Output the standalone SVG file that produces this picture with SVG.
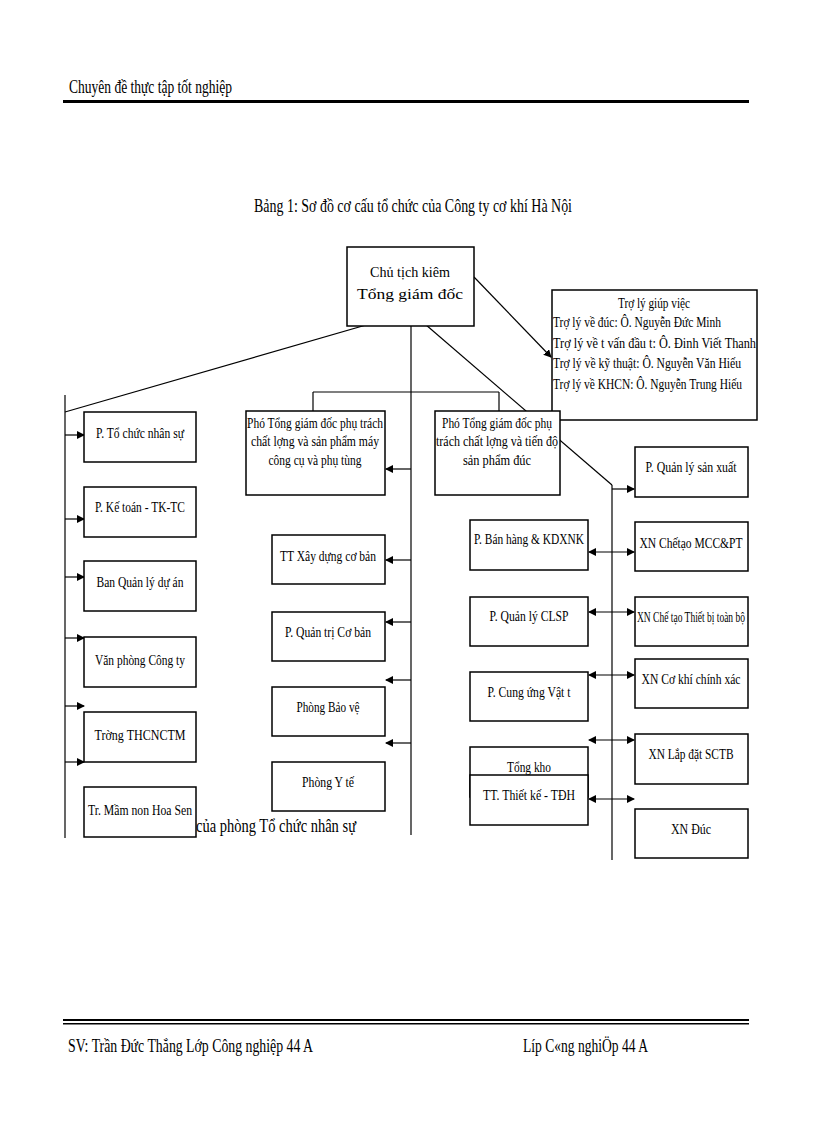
<svg xmlns="http://www.w3.org/2000/svg" width="816" height="1123" viewBox="0 0 816 1123">
<style>
text{font-family:"Liberation Serif",serif;fill:#000}
.b{fill:#fff;stroke:#000;stroke-width:1.5}
.c{stroke:#000;stroke-width:1.2;fill:none}
.t{font-size:15px;text-anchor:middle}
</style>
<defs>
<marker id="a" markerWidth="8" markerHeight="8" refX="7" refY="4" orient="auto" markerUnits="userSpaceOnUse"><path d="M0,0L8,4L0,8z"/></marker>
<marker id="s" markerWidth="8" markerHeight="8" refX="1" refY="4" orient="auto" markerUnits="userSpaceOnUse"><path d="M8,0L0,4L8,8z"/></marker>
</defs>
<rect width="816" height="1123" fill="#fff"/>
<text x="69" y="93" font-size="19" textLength="163" lengthAdjust="spacingAndGlyphs">Chuyên đề thực tập tốt nghiệp</text>
<rect x="63" y="100" width="686" height="3"/>
<text x="413" y="212" font-size="19" text-anchor="middle" textLength="318" lengthAdjust="spacingAndGlyphs">Bảng 1: Sơ đồ cơ cấu tổ chức của Công ty cơ khí Hà Nội</text>
<rect x="63" y="1019" width="686" height="2"/><rect x="63" y="1023" width="686" height="1.5"/>
<text x="68" y="1052" font-size="19" textLength="245" lengthAdjust="spacingAndGlyphs">SV: Trần Đức Thắng Lớp Công nghiệp 44 A</text>
<text x="523" y="1052" font-size="19" textLength="125" lengthAdjust="spacingAndGlyphs">Líp C«ng nghiÖp 44 A</text>

<g id="connectors" class="c">
<path d="M411,312L65,412"/>
<path d="M65,395V838"/>
<path d="M411,312V835"/>
<path d="M411,312L612,485"/>
<path d="M612,485V860"/>
<path d="M474,277L551,357" marker-end="url(#a)"/>
<path d="M313,392H499"/>
<path d="M313,392V438" marker-end="url(#a)"/>
<path d="M499,392V442" marker-end="url(#a)"/>
<path d="M65,435H84" marker-end="url(#a)"/>
<path d="M65,519H84" marker-end="url(#a)"/>
<path d="M65,577H84" marker-end="url(#a)"/>
<path d="M65,638H84" marker-end="url(#a)"/>
<path d="M65,706H84" marker-end="url(#a)"/>
<path d="M65,762H84" marker-end="url(#a)"/>
<path d="M411,469H386" marker-end="url(#a)"/>
<path d="M411,560H386" marker-end="url(#a)"/>
<path d="M411,622H386" marker-end="url(#a)"/>
<path d="M411,680H386" marker-end="url(#a)"/>
<path d="M411,743H386" marker-end="url(#a)"/>
<path d="M612,489H634" marker-end="url(#a)"/>
<path d="M589,552H634" marker-start="url(#s)" marker-end="url(#a)"/>
<path d="M589,612H634" marker-start="url(#s)" marker-end="url(#a)"/>
<path d="M589,675H634" marker-start="url(#s)" marker-end="url(#a)"/>
<path d="M589,740H634" marker-start="url(#s)" marker-end="url(#a)"/>
<path d="M589,799H634" marker-start="url(#s)" marker-end="url(#a)"/>
</g>

<g id="ceo"><rect class="b" x="347" y="247" width="127" height="79"/>
<text class="t" x="410" y="277" font-size="19" textLength="80" lengthAdjust="spacingAndGlyphs">Chủ tịch kiêm</text><text class="t" x="410" y="299" font-size="19" textLength="106" lengthAdjust="spacingAndGlyphs">Tổng giám đốc</text></g>
<g id="assist"><rect class="b" x="552" y="290" width="205" height="130"/>
<text class="t" x="654" y="308" textLength="72" lengthAdjust="spacingAndGlyphs">Trợ lý giúp việc</text>
<text x="553" y="327" font-size="15" textLength="168" lengthAdjust="spacingAndGlyphs">Trợ lý về đúc: Ô. Nguyễn Đức Minh</text>
<text x="553" y="348" font-size="15" textLength="203" lengthAdjust="spacingAndGlyphs">Trợ lý về t   vấn đầu t:   Ô. Đinh Viết Thanh</text>
<text x="553" y="368" font-size="15" textLength="188" lengthAdjust="spacingAndGlyphs">Trợ lý về kỹ thuật: Ô. Nguyễn Văn Hiếu</text>
<text x="553" y="389" font-size="15" textLength="189" lengthAdjust="spacingAndGlyphs">Trợ lý về KHCN: Ô. Nguyễn Trung Hiếu</text></g>

<g id="l1"><rect class="b" x="84" y="412" width="112" height="50"/><text class="t" x="140" y="438" textLength="88" lengthAdjust="spacingAndGlyphs">P. Tổ chức nhân sự</text></g>
<g id="l2"><rect class="b" x="84" y="487" width="112" height="50"/><text class="t" x="140" y="512" textLength="90" lengthAdjust="spacingAndGlyphs">P. Kế toán - TK-TC</text></g>
<g id="l3"><rect class="b" x="84" y="561" width="112" height="50"/><text class="t" x="140" y="587" textLength="87" lengthAdjust="spacingAndGlyphs">Ban Quản lý dự án</text></g>
<g id="l4"><rect class="b" x="84" y="637" width="112" height="50"/><text class="t" x="140" y="665" textLength="90" lengthAdjust="spacingAndGlyphs">Văn phòng Công ty</text></g>
<g id="l5"><rect class="b" x="84" y="712" width="112" height="50"/><text class="t" x="140" y="740" textLength="91" lengthAdjust="spacingAndGlyphs">Trờng   THCNCTM</text></g>
<g id="l6"><rect class="b" x="84" y="787" width="112" height="50"/><text class="t" x="140" y="815" textLength="104" lengthAdjust="spacingAndGlyphs">Tr. Mầm non Hoa Sen</text></g>
<text x="196" y="832" font-size="19" textLength="160" lengthAdjust="spacingAndGlyphs">của phòng Tổ chức nhân sự</text>

<g id="p1"><rect class="b" x="246" y="411" width="139" height="84"/>
<text class="t" x="315" y="428" textLength="136" lengthAdjust="spacingAndGlyphs">Phó Tổng giám đốc phụ trách</text>
<text class="t" x="315" y="446" textLength="128" lengthAdjust="spacingAndGlyphs">chất lợng   và sản phẩm máy</text>
<text class="t" x="315" y="465" textLength="93" lengthAdjust="spacingAndGlyphs">công cụ và phụ tùng</text></g>
<g id="p2"><rect class="b" x="435" y="411" width="125" height="84"/>
<text class="t" x="497" y="428" textLength="110" lengthAdjust="spacingAndGlyphs">Phó Tổng giám đốc phụ</text>
<text class="t" x="497" y="446" textLength="122" lengthAdjust="spacingAndGlyphs">trách chất lợng   và tiến độ</text>
<text class="t" x="497" y="465" textLength="68" lengthAdjust="spacingAndGlyphs">sản phẩm đúc</text></g>

<g id="m1"><rect class="b" x="272" y="535" width="113" height="49"/><text class="t" x="328" y="561" textLength="96" lengthAdjust="spacingAndGlyphs">TT Xây dựng cơ bản</text></g>
<g id="m2"><rect class="b" x="272" y="612" width="113" height="49"/><text class="t" x="328" y="637" textLength="86" lengthAdjust="spacingAndGlyphs">P. Quản trị Cơ bản</text></g>
<g id="m3"><rect class="b" x="272" y="687" width="113" height="49"/><text class="t" x="328" y="712" textLength="63" lengthAdjust="spacingAndGlyphs">Phòng Bảo vệ</text></g>
<g id="m4"><rect class="b" x="272" y="762" width="113" height="49"/><text class="t" x="328" y="787" textLength="52" lengthAdjust="spacingAndGlyphs">Phòng Y tế</text></g>

<g id="r1"><rect class="b" x="470" y="520" width="118" height="50"/><text class="t" x="529" y="544" textLength="110" lengthAdjust="spacingAndGlyphs">P. Bán hàng &amp; KDXNK</text></g>
<g id="r2"><rect class="b" x="470" y="597" width="118" height="49"/><text class="t" x="529" y="621" textLength="79" lengthAdjust="spacingAndGlyphs">P. Quản lý  CLSP</text></g>
<g id="r3"><rect class="b" x="470" y="672" width="118" height="49"/><text class="t" x="529" y="697" textLength="83" lengthAdjust="spacingAndGlyphs">P. Cung ứng  Vật t</text></g>
<g id="r4"><rect class="b" x="470" y="747" width="118" height="50"/><text class="t" x="529" y="772" textLength="44" lengthAdjust="spacingAndGlyphs">Tổng kho</text></g>
<g id="r5"><rect class="b" x="470" y="775" width="118" height="50"/><text class="t" x="529" y="800" textLength="92" lengthAdjust="spacingAndGlyphs">TT. Thiết kế - TĐH</text></g>

<g id="x1"><rect class="b" x="635" y="447" width="113" height="50"/><text class="t" x="691" y="472" textLength="91" lengthAdjust="spacingAndGlyphs">P. Quản lý sản xuất</text></g>
<g id="x2"><rect class="b" x="635" y="522" width="113" height="49"/><text class="t" x="691" y="548" textLength="103" lengthAdjust="spacingAndGlyphs">XN Chếtạo MCC&amp;PT</text></g>
<g id="x3"><rect class="b" x="635" y="597" width="113" height="49"/><text class="t" x="691" y="622" textLength="108" lengthAdjust="spacingAndGlyphs">XN Chế tạo Thiết bị toàn bộ</text></g>
<g id="x4"><rect class="b" x="635" y="659" width="113" height="49"/><text class="t" x="691" y="684" textLength="99" lengthAdjust="spacingAndGlyphs">XN Cơ khí chính xác</text></g>
<g id="x5"><rect class="b" x="635" y="734" width="113" height="50"/><text class="t" x="691" y="759" textLength="85" lengthAdjust="spacingAndGlyphs">XN Lắp đặt SCTB</text></g>
<g id="x6"><rect class="b" x="635" y="809" width="113" height="49"/><text class="t" x="691" y="834" textLength="40" lengthAdjust="spacingAndGlyphs">XN Đúc</text></g>
</svg>
